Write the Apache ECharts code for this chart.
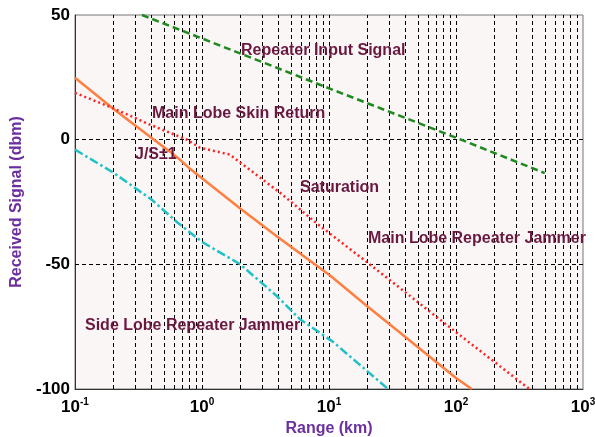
<!DOCTYPE html>
<html>
<head>
<meta charset="utf-8">
<script src="https://cdn.jsdelivr.net/npm/echarts@6/dist/echarts.min.js"></script>
<style>
html,body{margin:0;padding:0;background:#fff;}
#chart{width:595px;height:437px;}
</style>
</head>
<body>
<div id="chart"></div>
<script>
// ---- data (range in km, signal in dbm) ----
var repeaterRange = [0.337, 1, 10, 100, 500];
var repeaterInput = [50, 40.6, 20.6, 0.8, -13.4];

var jsRange = [0.1, 0.2, 0.39, 0.56, 0.67, 0.8, 0.96, 2.0, 3.9, 6.5, 10.2, 20, 30, 100, 133];
var jsValues = [24.8, 12.4, 1.2, -4.8, -8, -11.6, -14.8, -27.6, -38.8, -47.2, -54.5, -66.8, -74, -95.6, -100];

var mainRange = [0.1, 0.2, 0.39, 0.76, 0.96, 1.66, 2.0, 4.1, 8.2, 20, 100, 378];
var mainValues = [18.8, 12.6, 6, 0, -3.2, -6, -9.2, -21.2, -34, -49.2, -77.2, -100];

var sideRange = [0.1, 0.2, 0.4, 0.64, 1.0, 2.0, 3.9, 5.9, 10.7, 29.2];
var sideValues = [-4, -13.2, -24, -33.2, -41, -50, -62.8, -72, -81, -100];

var xTicks = [0.1, 1, 10, 100, 1000];
var yTicks = [-100, -50, 0, 50];
var gridX = [0.2,0.3,0.4,0.5,0.6,0.7,0.8,0.9,1,2,3,4,5,6,7,8,9,10,20,30,40,50,60,70,80,90,100,200,300,400,500,600,700,800,900];
var gridY = [0, -50];

var labels = [
  {text: 'Repeater Input Signal', x: 241, y: 52},
  {text: 'Main Lobe Skin Return', x: 152, y: 115},
  {text: 'J/S\u00b11', x: 135, y: 156},
  {text: 'Saturation', x: 300, y: 189},
  {text: 'Main Lobe Repeater Jammer', x: 368, y: 240},
  {text: 'Side Lobe Repeater Jammer', x: 85, y: 327}
];

function pairs(xs, ys) { return xs.map(function (x, i) { return [x, ys[i]]; }); }

var chart = echarts.init(document.getElementById('chart'), null, {renderer: 'canvas'});
var FONT = '"Liberation Sans", Arial, sans-serif';
var purple = '#6b2fa0';
var maroon = '#6a1840';

var markData = [];
gridX.forEach(function (v) { markData.push({xAxis: v}); });
gridY.forEach(function (v) { markData.push({yAxis: v}); });

var option = {
  animation: false,
  backgroundColor: '#ffffff',
  grid: {
    left: 75, right: 12, top: 15, bottom: 48,
    outerBoundsMode: 'none', containLabel: false,
    show: true, backgroundColor: '#f9f6f5', borderColor: '#777', borderWidth: 1
  },
  xAxis: {
    type: 'log', logBase: 10, min: xTicks[0], max: xTicks[xTicks.length - 1],
    splitNumber: 4,
    name: 'Range (km)', nameLocation: 'middle', nameGap: 28,
    nameTextStyle: {color: purple, fontFamily: FONT, fontWeight: 'bold', fontSize: 16},
    axisLine: {show: true, onZero: false, lineStyle: {color: '#333', width: 1}},
    axisTick: {show: false},
    splitLine: {show: false},
    axisLabel: {
      margin: 8,
      formatter: function (v) {
        var e = Math.round(Math.log10(v));
        return '{b|10}{s|' + e + '}';
      },
      rich: {
        b: {fontFamily: FONT, fontWeight: 'bold', fontSize: 17, color: '#000'},
        s: {fontFamily: FONT, fontWeight: 'bold', fontSize: 10, color: '#000', verticalAlign: 'top', padding: [0, 0, 10, 0]}
      }
    }
  },
  yAxis: {
    type: 'value', min: yTicks[0], max: yTicks[yTicks.length - 1], interval: 50,
    name: 'Received Signal (dbm)', nameLocation: 'middle', nameGap: 50,
    nameTextStyle: {color: purple, fontFamily: FONT, fontWeight: 'bold', fontSize: 16},
    axisLine: {show: true, onZero: false, lineStyle: {color: '#333', width: 1}},
    axisTick: {show: false},
    splitLine: {show: false},
    axisLabel: {margin: 5, color: '#000', fontFamily: FONT, fontWeight: 'bold', fontSize: 17}
  },
  series: [
    {
      name: 'gridlines', type: 'line', data: [], z: 1,
      markLine: {
        silent: true, symbol: ['none', 'none'], z: 1, animation: false,
        label: {show: false},
        lineStyle: {type: [4, 3], color: '#000', width: 1},
        emphasis: {disabled: true},
        data: markData
      }
    },
    {
      name: 'Repeater Input Signal', type: 'line', z: 3, symbol: 'none', clip: true,
      data: pairs(repeaterRange, repeaterInput),
      lineStyle: {color: '#1e8a1e', width: 2.5, type: [7, 4]}
    },
    {
      name: 'J/S=1', type: 'line', z: 3, symbol: 'none', clip: true,
      data: pairs(jsRange, jsValues),
      lineStyle: {color: '#ff7f40', width: 2.5, type: 'solid'}
    },
    {
      name: 'Main Lobe', type: 'line', z: 3, symbol: 'none', clip: true,
      data: pairs(mainRange, mainValues),
      lineStyle: {color: '#ff2020', width: 2.5, type: [2, 3]}
    },
    {
      name: 'Side Lobe Repeater Jammer', type: 'line', z: 3, symbol: 'none', clip: true,
      data: pairs(sideRange, sideValues),
      lineStyle: {color: '#20c0c8', width: 2.5, type: [9, 3, 2.5, 3]}
    }
  ],
  graphic: labels.map(function (l) {
    return {
      type: 'text', left: l.x, top: l.y - 9, z: 10, silent: true,
      style: {text: l.text, fill: maroon, font: 'bold 16px ' + FONT}
    };
  })
};
chart.setOption(option);
</script>
</body>
</html>
